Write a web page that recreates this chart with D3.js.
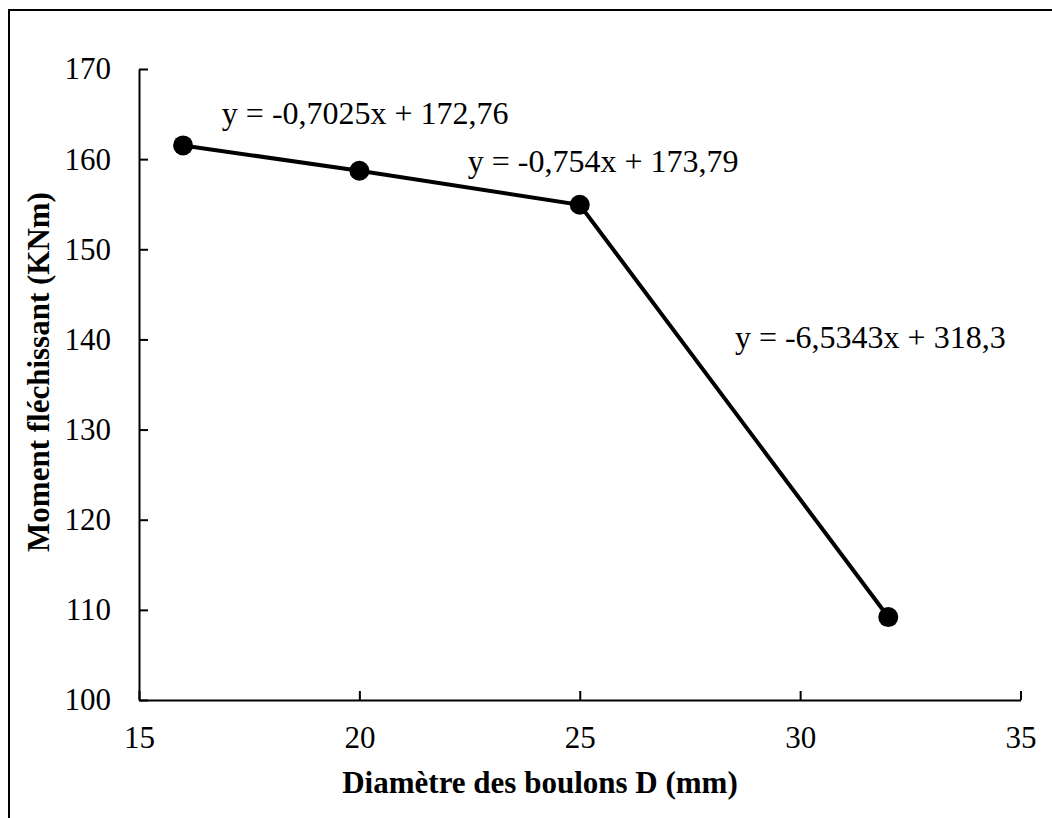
<!DOCTYPE html>
<html>
<head>
<meta charset="utf-8">
<script src="https://cdn.jsdelivr.net/npm/d3@7"></script>
<style>
  html, body { margin: 0; padding: 0; background: #fff; }
  svg { display: block; }
  text { font-family: "Liberation Serif", "Times New Roman", serif; fill: #000; }
</style>
</head>
<body>
<svg id="chart" width="1052" height="818"></svg>
<script>
// Bolt diameter (mm) vs bending moment (KNm)
const diameters = [16, 20, 25, 32];
const moments = [161.52, 158.71, 154.94, 109.2];
const xTicks = [15, 20, 25, 30, 35];
const yTicks = [100, 110, 120, 130, 140, 150, 160, 170];

// Linear fits for each segment, with the position where each equation sits
const fitLabels = ["y = -0,7025x + 172,76", "y = -0,754x + 173,79", "y = -6,5343x + 318,3"];
const fitLabelX = [16.88, 22.46, 28.52];
const fitLabelY = [163.9, 158.56, 139.0];

const svg = d3.select("#chart");
const W = 1052, H = 818;
const plotLeft = 139, plotRight = 1020.5, plotTop = 69, plotBottom = 700;

// Outer frame (top and left edges visible)
svg.append("path")
  .attr("d", `M9,${H + 5}V10H${W + 5}`)
  .attr("fill", "none")
  .attr("stroke", "#000")
  .attr("stroke-width", 2);

const x = d3.scaleLinear().domain([15, 35]).range([plotLeft, plotRight]);
const y = d3.scaleLinear().domain([100, 170]).range([plotBottom, plotTop]);

const xAxis = svg.append("g")
  .attr("transform", `translate(0,${plotBottom})`)
  .call(d3.axisBottom(x).tickValues(xTicks).tickSize(-9).tickSizeOuter(0).tickPadding(26).tickFormat(d3.format("d")));
const yAxis = svg.append("g")
  .attr("transform", `translate(${plotLeft},0)`)
  .call(d3.axisLeft(y).tickValues(yTicks).tickSize(-9).tickSizeOuter(0).tickPadding(28).tickFormat(d3.format("d")));

[xAxis, yAxis].forEach(g => {
  g.select(".domain").attr("stroke", "#000").attr("stroke-width", 2);
  g.selectAll(".tick line").attr("stroke", "#000").attr("stroke-width", 2);
  g.selectAll(".tick text")
    .attr("font-family", "Liberation Serif, Times New Roman, serif")
    .attr("font-size", 31)
    .attr("fill", "#000");
});

// Data line and markers
const pts = diameters.map((d, i) => [d, moments[i]]);
svg.append("path")
  .datum(pts)
  .attr("fill", "none")
  .attr("stroke", "#000")
  .attr("stroke-width", 4)
  .attr("d", d3.line().x(d => x(d[0])).y(d => y(d[1])));

svg.selectAll("circle.pt")
  .data(pts)
  .join("circle")
  .attr("class", "pt")
  .attr("cx", d => x(d[0]))
  .attr("cy", d => y(d[1]))
  .attr("r", 10)
  .attr("fill", "#000");

// Trend equations
svg.selectAll("text.fit")
  .data(fitLabels)
  .join("text")
  .attr("class", "fit")
  .attr("x", (d, i) => x(fitLabelX[i]))
  .attr("y", (d, i) => y(fitLabelY[i]))
  .attr("font-size", 32)
  .text(d => d);

// Axis titles
svg.append("text")
  .attr("x", 540)
  .attr("y", 793)
  .attr("text-anchor", "middle")
  .attr("font-size", 31)
  .attr("font-weight", "bold")
  .text("Diamètre des boulons D (mm)");

svg.append("text")
  .attr("transform", "translate(49,372) rotate(-90)")
  .attr("text-anchor", "middle")
  .attr("font-size", 31)
  .attr("font-weight", "bold")
  .text("Moment fléchissant (KNm)");
</script>
</body>
</html>
